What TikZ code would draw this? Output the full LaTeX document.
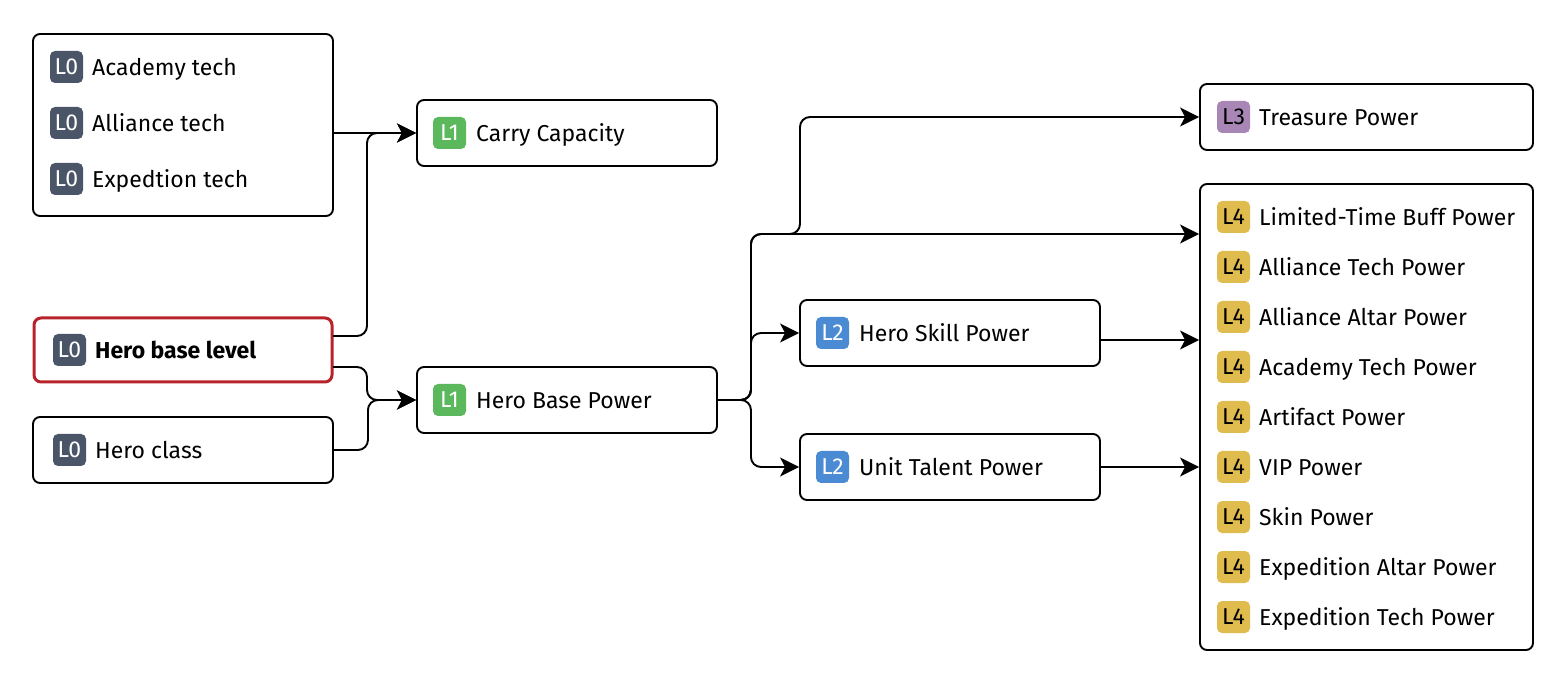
\documentclass[tikz,border=0pt]{standalone}
\usepackage{fontspec}
\setmainfont{Fira Sans}
\usetikzlibrary{arrows.meta,calc}
\definecolor{lzero}{HTML}{4A5568}
\definecolor{lone}{HTML}{5CB85C}
\definecolor{ltwo}{HTML}{4A8BD4}
\definecolor{lthree}{HTML}{A886B5}
\definecolor{lfour}{HTML}{E0BB4E}
\definecolor{hired}{HTML}{B8232B}
\tikzset{
  card/.style={draw=black, line width=1.9pt, rounded corners=7pt, fill=white, inner sep=0pt},
  badge/.style={rounded corners=5pt, minimum width=33pt, minimum height=32pt, inner sep=0pt, text height=15.8pt, text depth=0pt, font=\fontsize{23}{27}\selectfont},
  b0/.style={badge, fill=lzero, text=white},
  b1/.style={badge, fill=lone, text=white},
  b2/.style={badge, fill=ltwo, text=white},
  b3/.style={badge, fill=lthree, text=black},
  b4/.style={badge, fill=lfour, text=black},
  lbl/.style={anchor=base west, inner sep=0pt, yshift=-8.5pt, font=\fontsize{23}{27}\selectfont},
  conn/.style={draw=black, line width=1.9pt, rounded corners=10pt, -{Stealth[length=19pt,width=19pt,inset=5pt]}},
}
\begin{document}
\begin{tikzpicture}[x=1pt,y=-1pt]
\useasboundingbox[fill=white] (0,0) rectangle (1567,684);
% boxes
\node[card, minimum width=300pt, minimum height=182pt] (tech) at (183,125) {};
\node[card, minimum width=300pt, minimum height=66pt] (cc) at (567,133) {};
\node[card, draw=hired, line width=3pt, minimum width=298pt, minimum height=64pt] (hbl) at (183,350) {};
\node[card, minimum width=300pt, minimum height=66pt] (hc) at (183,450) {};
\node[card, minimum width=300pt, minimum height=66pt] (hbp) at (567,400) {};
\node[card, minimum width=300pt, minimum height=66pt] (hsp) at (950,333) {};
\node[card, minimum width=300pt, minimum height=66pt] (utp) at (950,467) {};
\node[card, minimum width=333pt, minimum height=66pt] (tp) at (1366.5,117) {};
\node[card, minimum width=333pt, minimum height=466pt] (lf) at (1366.5,417) {};
% items
\node[b0] (t1b) at (66.5,67) {L0}; \node[lbl] (t1) at (92,67) {Academy tech};
\node[b0] (t2b) at (66.5,123) {L0}; \node[lbl] (t2) at (92,123) {Alliance tech};
\node[b0] (t3b) at (66.5,179) {L0}; \node[lbl] (t3) at (92,179) {Expedtion tech};
\node[b1] (ccb) at (449.5,133) {L1}; \node[lbl] (cct) at (476,133) {Carry Capacity};
\node[b0] (hblb) at (69.5,350) {L0}; \node[lbl] (hblt) at (95,350) {\bfseries Hero base level};
\node[b0] (hcb) at (69.5,450) {L0}; \node[lbl] (hct) at (95,450) {Hero class};
\node[b1] (hbpb) at (449.5,400) {L1}; \node[lbl] (hbpt) at (476,400) {Hero Base Power};
\node[b2] (hspb) at (832.5,333) {L2}; \node[lbl] (hspt) at (859,333) {Hero Skill Power};
\node[b2] (utpb) at (832.5,467) {L2}; \node[lbl] (utpt) at (859,467) {Unit Talent Power};
\node[b3] (tpb) at (1233.5,117) {L3}; \node[lbl] (tpt) at (1259,117) {Treasure Power};
\node[b4] (l1b) at (1233.5,217) {L4}; \node[lbl] (l1) at (1259,217) {Limited-Time Buff Power};
\node[b4] (l2b) at (1233.5,267) {L4}; \node[lbl] (l2) at (1259,267) {Alliance Tech Power};
\node[b4] (l3b) at (1233.5,317) {L4}; \node[lbl] (l3) at (1259,317) {Alliance Altar Power};
\node[b4] (l4b) at (1233.5,367) {L4}; \node[lbl] (l4) at (1259,367) {Academy Tech Power};
\node[b4] (l5b) at (1233.5,417) {L4}; \node[lbl] (l5) at (1259,417) {Artifact Power};
\node[b4] (l6b) at (1233.5,467) {L4}; \node[lbl] (l6) at (1259,467) {VIP Power};
\node[b4] (l7b) at (1233.5,517) {L4}; \node[lbl] (l7) at (1259,517) {Skin Power};
\node[b4] (l8b) at (1233.5,567) {L4}; \node[lbl] (l8) at (1259,567) {Expedition Altar Power};
\node[b4] (l9b) at (1233.5,617) {L4}; \node[lbl] (l9) at (1259,617) {Expedition Tech Power};
% coordinates
\coordinate (techo) at (tech.east |- cc.west);
\coordinate (hblA) at (333,336);
\coordinate (hblB) at (333,367);
\coordinate (jA) at (800,234);
\coordinate (lfA) at (lf.west |- jA);
\coordinate (hspo) at (1100,340);
\coordinate (lfB) at (lf.west |- hspo);
\coordinate (lfC) at (lf.west |- utp.east);
% connectors
\draw[conn] (techo) -- (cc.west);
\draw[conn] (hblA) -- ++(34,0) |- (cc.west);
\draw[conn] (hblB) -- ++(34,0) |- (hbp.west);
\draw[conn] (hc.east) -- ++(34,0) |- (hbp.west);
\draw[conn] (hbp.east) -- ++(33,0) |- (lfA);
\draw[conn] (hbp.east) -- ++(33,0) |- (jA) |- (tp.west);
\draw[conn] (hbp.east) -- ++(33,0) |- (hsp.west);
\draw[conn] (hbp.east) -- ++(33,0) |- (utp.west);
\draw[conn] (hspo) -- (lfB);
\draw[conn] (utp.east) -- (lfC);
\end{tikzpicture}
\end{document}
